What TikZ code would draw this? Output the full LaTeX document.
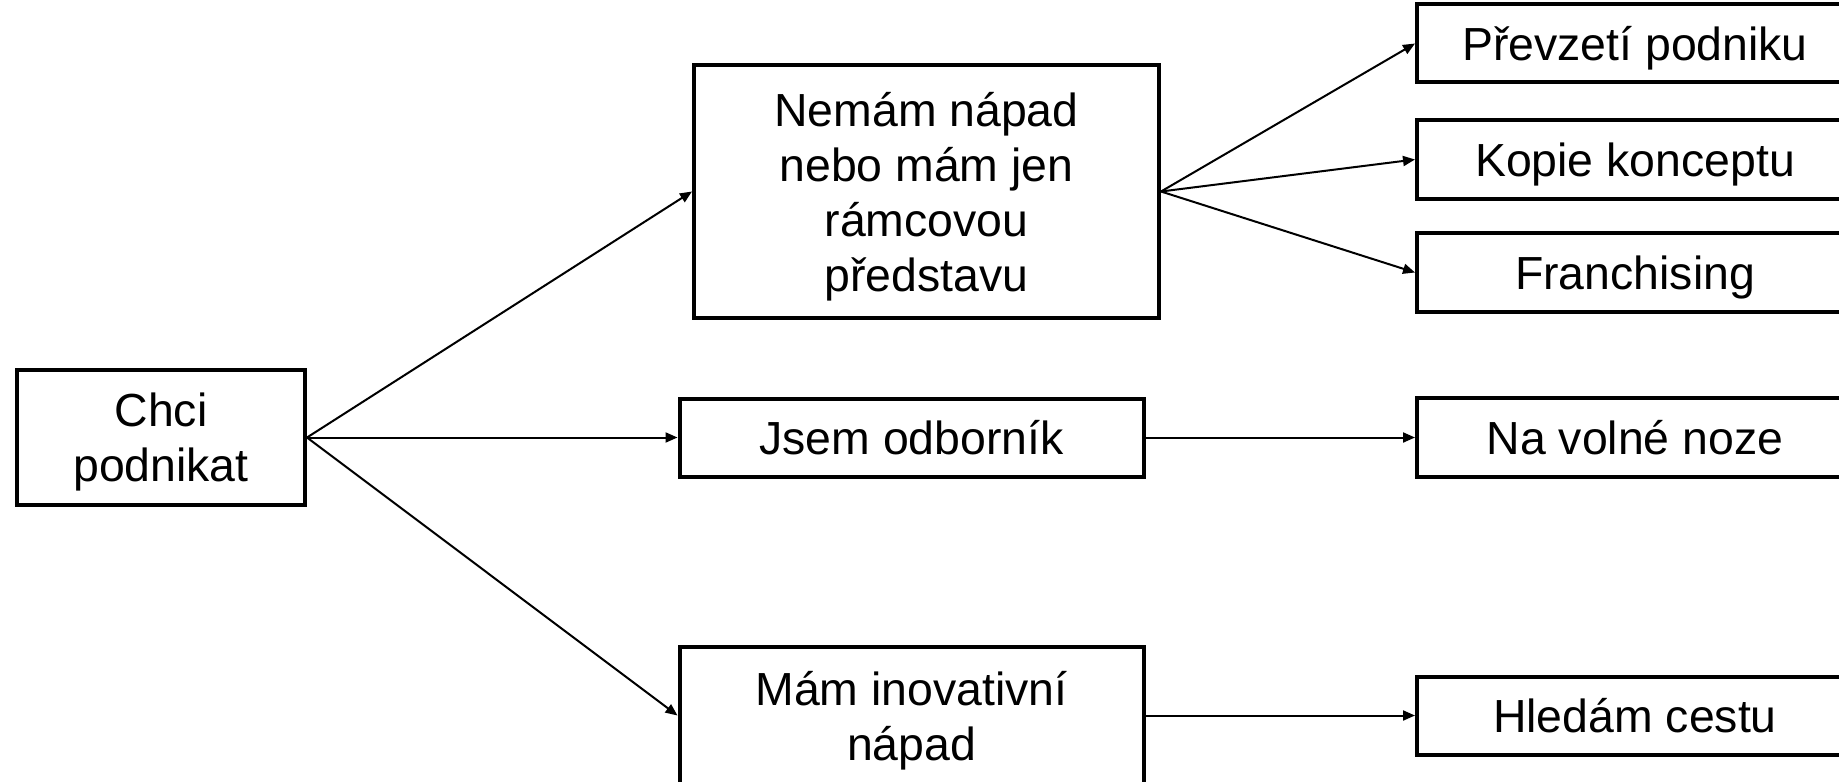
\documentclass[tikz,border=0pt]{standalone}
\usepackage{fontspec}
\setmainfont{Liberation Sans}
\usepackage{tikz}
\usetikzlibrary{arrows.meta}
\usetikzlibrary{positioning}
\tikzset{box/.style={draw, line width=2pt, inner sep=0pt, align=center, text depth=0pt,
    font=\fontsize{23.2}{27.5}\selectfont},
  bigbox/.style={box, minimum width=232pt},
  endbox/.style={box, minimum width=218pt, minimum height=39.5pt},
  >={Triangle[length=6pt,width=5pt]}
}

\begin{document}
\begin{tikzpicture}[on grid]
      \useasboundingbox (0,0) rectangle (919.5pt,-390.5pt);
      \node[box, minimum width=144pt, minimum height=67.5pt] (chci) at (80.5pt,-218.75pt) {Chci\\podnikat};
      \node[bigbox, minimum height=39pt] (odbornik) [right=375.25pt of chci] {Jsem odborník};
      \node[bigbox, minimum width=232.5pt, minimum height=126pt] (napad) [above right=123pt and 7.5pt of odbornik]
            {Nemám nápad\\nebo mám jen\\rámcovou\\představu};
      \node[bigbox, minimum height=69pt] (inov) [below=139pt of odbornik] {Mám inovativní\\nápad};
      \node[endbox] (volne) [right=361.75pt of odbornik] {Na volné noze};
      \node[endbox] (kopie) [above=139pt of volne] {Kopie konceptu};
      \node[endbox, minimum height=39pt] (prevzeti) [above=58pt of kopie] {Převzetí podniku};
      \node[endbox] (franchising) [below=56.5pt of kopie] {Franchising};
      \node[endbox, minimum height=39pt] (cesta) [right=361.75pt of inov] {Hledám cestu};
      \path[->, line width=1pt] (chci.east) edge (napad.west)
                      edge (odbornik.west)
                      edge (inov.west)
                (napad.east) edge (prevzeti.west)
                      edge (kopie.west)
                      edge (franchising.west)
                (odbornik) edge (volne)
                (inov) edge (cesta);
    \end{tikzpicture}
\end{document}
